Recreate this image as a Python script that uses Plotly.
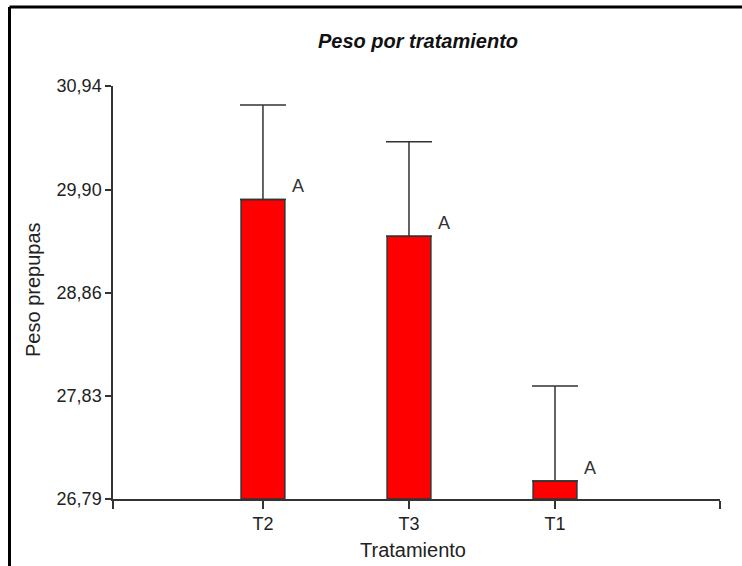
import plotly.graph_objects as go

# Treatment means of pupal weight with their standard errors
categories = ["T2", "T3", "T1"]
means = [29.80, 29.43, 26.97]
errors = [0.95, 0.95, 0.955]
letters = ["A", "A", "A"]
y_ticks = [26.79, 27.83, 28.86, 29.90, 30.94]

W, H = 742, 566
L, R, T, B = 113, 22, 86, 67
plot_w = W - L - R
plot_h = H - T - B

x_pos = list(range(len(categories)))
x_min, x_max = -1.027, 3.13

fig = go.Figure()
fig.add_trace(go.Bar(
    x=x_pos,
    y=[m - y_ticks[0] for m in means],
    base=y_ticks[0],
    width=0.30,
    marker=dict(color="#FF0000", line=dict(color="#333333", width=1.5)),
    error_y=dict(
        type="data",
        symmetric=False,
        array=errors,
        arrayminus=[0] * len(errors),
        color="#333333",
        thickness=1.5,
        width=23,
    ),
    hoverinfo="skip",
))

annotations = []
for xi, m, lab in zip(x_pos, means, letters):
    annotations.append(dict(
        x=xi, y=m, xref="x", yref="y", text=lab, showarrow=False,
        xshift=35, yshift=13, font=dict(size=18, color="#333333"),
    ))

annotations.append(dict(
    x=(33 - L) / plot_w, y=(H - B - 290) / plot_h, xref="paper", yref="paper",
    xanchor="center", yanchor="middle",
    text="Peso prepupas", textangle=-90, showarrow=False,
    font=dict(size=20, color="#222222"),
))
annotations.append(dict(
    x=(413 - L) / plot_w, y=(H - B - 550) / plot_h, xref="paper", yref="paper",
    xanchor="center", yanchor="middle",
    text="Tratamiento", showarrow=False,
    font=dict(size=20, color="#222222"),
))

# Frame lines along the left and top of the figure
left_x = (9.5 - L) / plot_w
top_y = 1 + (T - 7) / plot_h
bottom_y = -(B + 5) / plot_h
right_x = 1 + (R + 5) / plot_w
shapes = [
    dict(type="line", xref="paper", yref="paper", x0=left_x, x1=left_x,
         y0=bottom_y, y1=top_y, line=dict(color="#000000", width=3)),
    dict(type="line", xref="paper", yref="paper", x0=left_x, x1=right_x,
         y0=top_y, y1=top_y, line=dict(color="#000000", width=3)),
]

fig.update_layout(
    width=W, height=H,
    margin=dict(l=L, r=R, t=T, b=B),
    paper_bgcolor="white",
    plot_bgcolor="white",
    separators=",.",
    showlegend=False,
    font=dict(family="Liberation Sans, Arial, sans-serif", color="#222222"),
    title=dict(
        text="<b><i>Peso por tratamiento</i></b>",
        x=(418 - L) / plot_w, xref="paper", xanchor="center",
        y=1 - 41 / H, yref="container", yanchor="middle",
        font=dict(size=20, color="#111111"),
    ),
    xaxis=dict(
        range=[x_min, x_max],
        tickmode="array",
        tickvals=[x_min] + x_pos + [x_max],
        ticktext=[""] + categories + [""],
        ticks="outside", ticklen=8, tickwidth=1.5, tickcolor="#333333",
        showline=True, linecolor="#333333", linewidth=1.5,
        showgrid=False, zeroline=False,
        tickfont=dict(size=18, color="#222222"),
    ),
    yaxis=dict(
        range=[y_ticks[0], y_ticks[-1]],
        tickmode="array",
        tickvals=y_ticks,
        tickformat=".2f",
        ticks="outside", ticklen=6, tickwidth=1.5, tickcolor="#333333",
        showline=True, linecolor="#333333", linewidth=1.5,
        showgrid=False, zeroline=False,
        tickfont=dict(size=18, color="#222222"),
    ),
    annotations=annotations,
    shapes=shapes,
)

fig.write_html("out.html")
